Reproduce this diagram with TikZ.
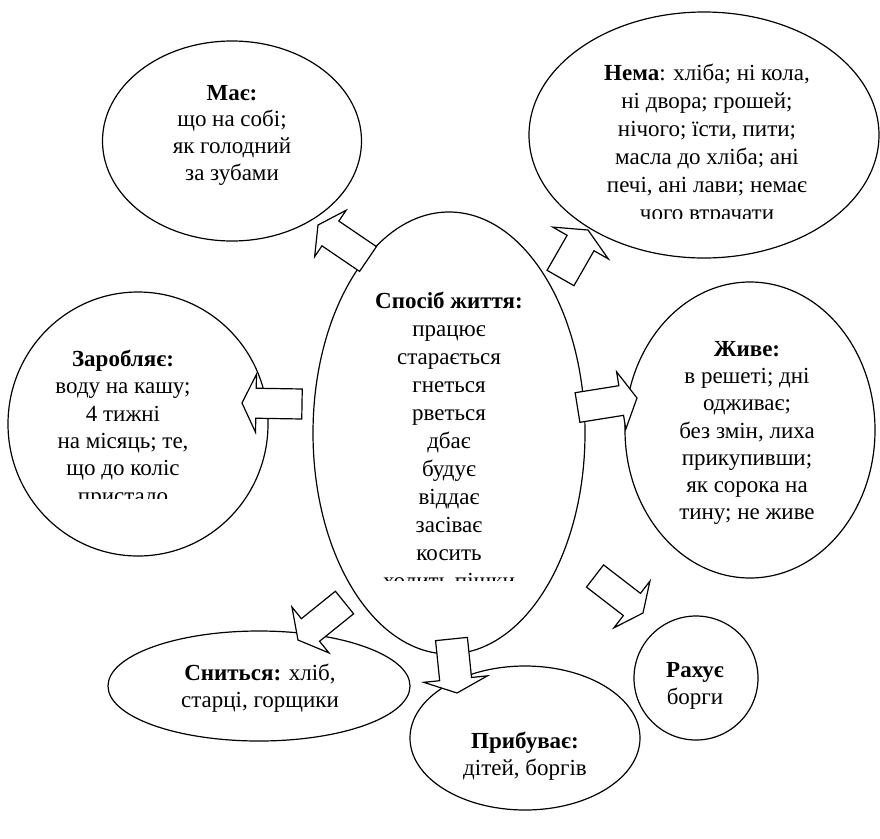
\documentclass[tikz,border=0pt]{standalone}
\usepackage{fontspec}
\setmainfont{Liberation Serif}
\usetikzlibrary{shapes.geometric,calc}
\tikzset{
  ell/.style={draw, ellipse, fill=white, line width=1.2pt, inner sep=0pt},
  txt/.style={align=center, inner sep=0pt, font=\fontsize{23}{27.3}\selectfont},
  arr/.style={draw, fill=white, line width=1.2pt, line join=miter},
}
% #1 tail, #2 tip, #3 name, #4 shaft half width, #5 head half width, #6 head length
\newcommand\blockarr[6]{%
  \coordinate (#3n) at ($(#2)!#6pt!(#1)$);
  \draw[arr] ($(#1)!#4pt!90:(#2)$) -- ($(#3n)!#4pt!90:(#2)$) -- ($(#3n)!#5pt!90:(#2)$)
    -- (#2) -- ($(#3n)!#5pt!-90:(#2)$) -- ($(#3n)!#4pt!-90:(#2)$) -- ($(#1)!#4pt!-90:(#2)$) -- cycle;}
\begin{document}
\begin{tikzpicture}[x=1pt,y=-1pt]
\useasboundingbox (0,0) rectangle (880,838);
% ellipses
\node[ell, minimum width=272pt, minimum height=442pt] (cen) at (449,433) {};
\node[ell, minimum width=259pt, minimum height=200pt] (mae) at (232,141) {};
\node[ell, minimum width=350pt, minimum height=246pt] (nema) at (704,135) {};
\node[ell, minimum width=260pt, minimum height=264pt] (zar) at (138,424) {};
\node[ell, minimum width=250pt, minimum height=296pt] (zhyve) at (750,430) {};
\node[ell, minimum width=124pt, minimum height=124pt] (rakh) at (696,678) {};
\node[ell, minimum width=302pt, minimum height=110pt] (snyt) at (259,686) {};
\node[ell, minimum width=230pt, minimum height=144pt] (pryb) at (525,738) {};
% arrow anchors
\coordinate (a1t) at (368,259);   \coordinate (a1h) at (318,225);
\coordinate (a2t) at (560.5,278); \coordinate (a2h) at (588,230);
\coordinate (a3t) at (302,404);   \coordinate (a3h) at (242,403);
\coordinate (a4t) at (577.5,407.5); \coordinate (a4h) at (637,398);
\coordinate (a5t) at (595,576);   \coordinate (a5h) at (643,613);
\coordinate (a6t) at (451.5,639); \coordinate (a6h) at (457,693);
\coordinate (a7t) at (344.5,602.5); \coordinate (a7h) at (298,640);
\blockarr{a1t}{a1h}{a1}{15}{28}{15}
\blockarr{a2t}{a2h}{a2}{15.5}{32}{15}
\blockarr{a3t}{a3h}{a3}{15}{29}{14}
\blockarr{a4t}{a4h}{a4}{15}{29}{16}
\blockarr{a5t}{a5h}{a5}{14}{29.5}{14}
\blockarr{a6t}{a6h}{a6}{16}{32}{14}
\blockarr{a7t}{a7h}{a7}{14.5}{29.5}{16}
% texts
\begin{scope}
\clip (0,0) rectangle (880,580);
\node[txt, font=\fontsize{23}{28}\selectfont] (centxt) at (449,440) {\textbf{Спосіб життя:}\\працює\\старається\\гнеться\\рветься\\дбає\\будує\\віддає\\засіває\\косить\\холить пішки};
\end{scope}
\node[txt, font=\fontsize{23}{26.7}\selectfont] (maetxt) at (232,135) {\textbf{Має:}\\що на собі;\\як голодний\\за зубами};
\begin{scope}
\clip (0,0) rectangle (880,218);
\node[txt, font=\fontsize{23}{28}\selectfont] (nematxt) at (707,145) {\textbf{Нема}: хліба; ні кола,\\ні двора; грошей;\\нічого; їсти, пити;\\масла до хліба; ані\\печі, ані лави; немає\\чого втрачати};
\end{scope}
\begin{scope}
\clip (0,0) rectangle (880,498);
\node[txt] (zartxt) at (123,429) {\textbf{Заробляє:}\\воду на кашу;\\4 тижні\\на місяць; те,\\що до коліс\\пристало};
\end{scope}
\node[txt] (zhyvetxt) at (747,433) {\textbf{Живе:}\\в решеті; дні\\одживає;\\без змін, лиха\\прикупивши;\\як сорока на\\тину; не живе};
\node[txt] (rakhtxt) at (695,686) {\textbf{Рахує}\\борги};
\node[txt] (snyttxt) at (260,688) {\textbf{Сниться:} хліб,\\старці, горщики};
\node[txt] (prybtxt) at (525,756) {\textbf{Прибуває:}\\дітей, боргів};
\end{tikzpicture}
\end{document}
